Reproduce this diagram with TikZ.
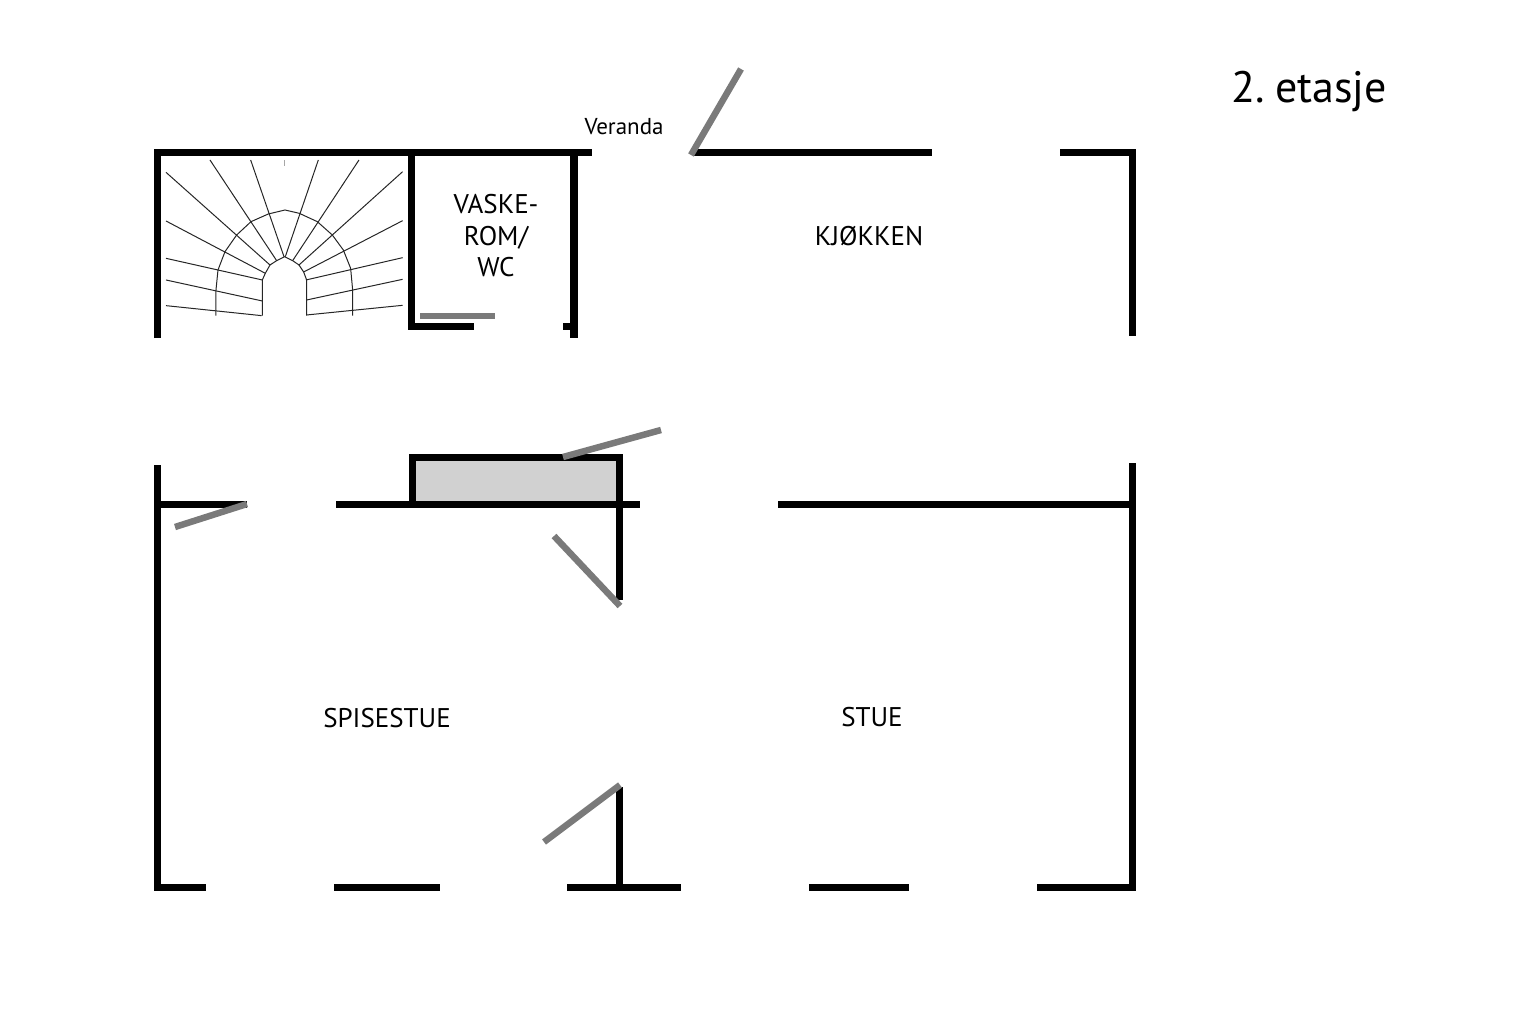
\documentclass[tikz,border=0pt]{standalone}
\usepackage{fontspec}
\setmainfont{PT Sans}
\begin{document}
\begin{tikzpicture}[x=1pt,y=-1pt,
  wall/.style={line width=7pt,black,line join=miter},
  doorleaf/.style={line width=6.5pt,black!52},
  stair/.style={line width=1pt,black!85},
  room/.style={font=\fontsize{27}{31.5}\selectfont,align=center,inner sep=0pt,text=black}]
\useasboundingbox (0,0) rectangle (1536,1024);
% stairs
\begin{scope}[shift={(140,140)},x=0.3333pt,y=-0.3333pt]
  \foreach \a/\b/\c/\d in {78/497/365/527,78/420/367/483,78/355/367/420,78/243/376/400,78/97/390/375,210/60/410/362,332/60/432/350,535/60/436/350,657/60/458/362,788/95/477/375,788/242/491/396,788/353/498/420,788/418/500/480,788/496/500/525}
    \draw[stair] (\a,\b) -- (\c,\d);
  \draw[stair] (367,527) -- (367,420) -- (376,400) -- (390,375) -- (410,362) -- (434,350) -- (458,362) -- (477,375) -- (491,396) -- (500,420) -- (500,527);
  \draw[stair] (228,527) -- (228,450) -- (234,390) -- (255,335) -- (290,285) -- (333,245) -- (385,222) -- (435,210) -- (478,220) -- (532,245) -- (577,285) -- (610,330) -- (632,385) -- (638,450) -- (638,527);
  \draw[stair,black!35] (433,60) -- (433,78);
\end{scope}
% grey filled chimney
\fill[black!18] (415,460) rectangle (618,502);
% upper walls
\draw[wall] (157,338) -- (157,153) -- (592,153);
\draw[wall] (411.5,153) -- (411.5,326) -- (474,326);
\draw[wall,line width=8pt] (574,153) -- (574,338);
\draw[wall] (563,326) -- (574,326);
\draw[wall] (693,153) -- (932,153);
\draw[wall] (1060,153) -- (1132,153) -- (1132,336);
% lower walls
\draw[wall] (157,465) -- (157,887) -- (206,887);
\draw[wall] (157,504) -- (247,504);
\draw[wall] (336,504) -- (640,504);
\draw[wall] (412,504) -- (412,457) -- (619,457) -- (619,504);
\draw[wall] (619,504) -- (619,600);
\draw[wall] (778,504) -- (1132,504);
\draw[wall] (1132,463) -- (1132,887) -- (1037,887);
\draw[wall] (334,887) -- (440,887);
\draw[wall] (567,887) -- (681,887);
\draw[wall] (619,787) -- (619,887);
\draw[wall] (809,887) -- (909,887);
% door leaves
\draw[doorleaf] (420,316) -- (495,316);
\draw[doorleaf] (691,155) -- (741,69);
\draw[doorleaf] (175,527) -- (247,504);
\draw[doorleaf] (563,457) -- (661,430);
\draw[doorleaf] (554,536) -- (620,606);
\draw[doorleaf] (544,842) -- (620,785);
% labels
\node[room] (vask) at (496,236) {VASKE-\\ROM/\\WC};
\node[room] (kj) at (869,236) {KJØKKEN};
\node[room] (sp) at (387,718) {SPISESTUE};
\node[room] (st) at (872,717) {STUE};
\node[font=\fontsize{23}{25}\selectfont,inner sep=0pt,text=black] (ver) at (624,127) {Veranda};
\node[font=\fontsize{44}{48}\selectfont,inner sep=0pt,text=black] (et) at (1309,92) {2.\hspace{-0.12em} etasje};
\end{tikzpicture}
\end{document}
